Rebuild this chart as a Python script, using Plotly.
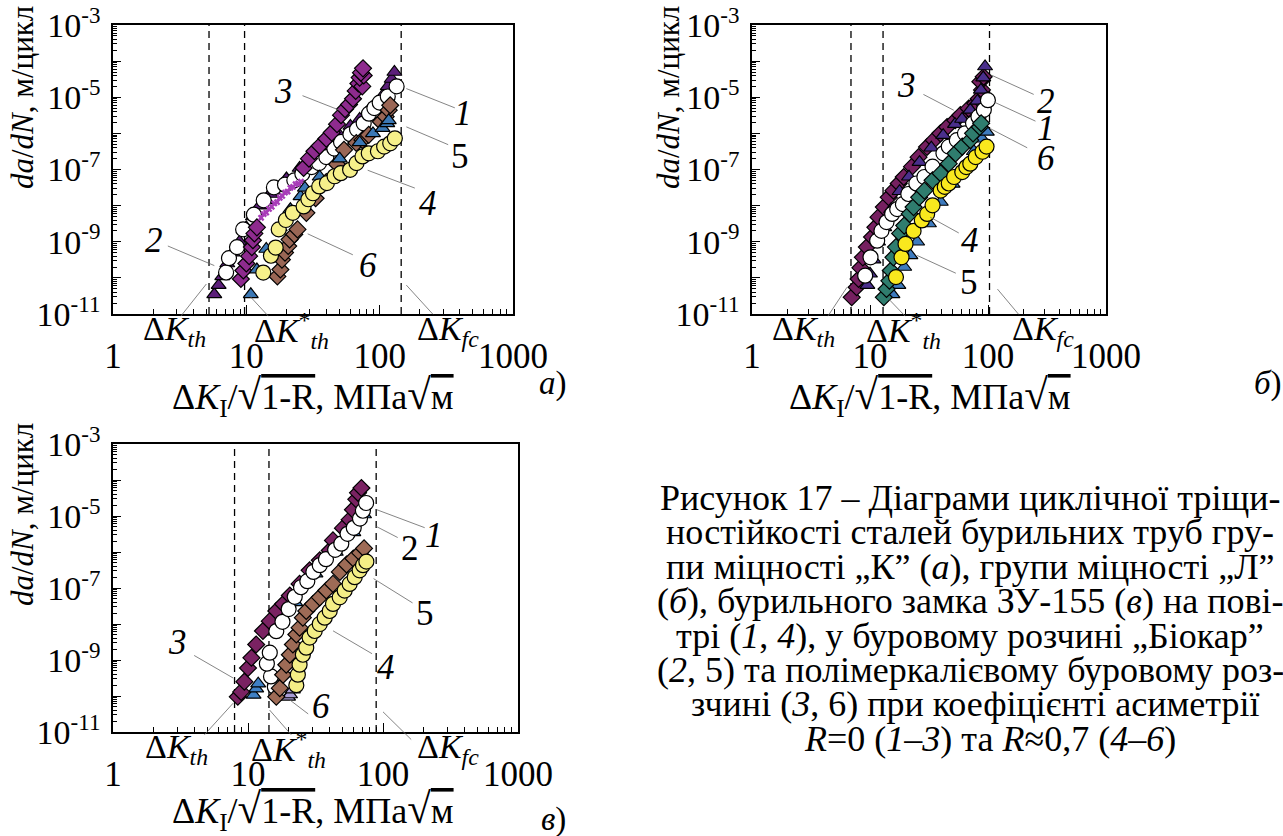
import plotly.graph_objects as go

W, H = 1283, 836
SERIF = "Liberation Serif, Tinos, 'Times New Roman', 'DejaVu Serif', serif"

# ======================= DATA =======================
# ---- panel a (група міцності "К") ----
a1_x = [7.05, 7.41, 8.51, 9.46, 11.4, 13.5, 16.1, 19.5, 22.9, 26.3, 30.9, 35.1, 39.8, 45.7, 51.3, 60.3, 67.6, 75.9, 83.2, 91.2, 100, 115, 134]
a1_y = [1.41e-10, 3.5e-10, 7.1e-10, 2.2e-9, 5.6e-9, 1.4e-8, 3.2e-8, 3.8e-8, 5.0e-8, 7.6e-8, 1.17e-7, 1.5e-7, 2.2e-7, 3.8e-7, 5.8e-7, 9.5e-7, 1.3e-6, 1.9e-6, 3.5e-6, 5.0e-6, 7.1e-6, 1.05e-5, 2.0e-5]
a2_x = [5.75, 6.2, 6.6, 7.2, 7.9, 8.9, 10.0, 11.2, 12.6, 14.1, 15.1, 15.8, 17.4, 20.0, 25.1, 31.6, 39.8, 50.1, 60.3, 70.8, 83.2, 95.5, 105, 115, 123, 129]
a2_y = [3.5e-11, 6.3e-11, 1.1e-10, 2.5e-10, 5.0e-10, 1.0e-9, 2.5e-9, 5.0e-9, 1.0e-8, 1.4e-8, 2.1e-8, 2.6e-8, 3.2e-8, 5.6e-8, 1.1e-7, 2.2e-7, 4.5e-7, 8.9e-7, 1.6e-6, 2.5e-6, 4.5e-6, 7.1e-6, 1.1e-5, 2.0e-5, 3.2e-5, 5.0e-5]
a3_x = [9.1, 9.5, 10.0, 10.5, 11.0, 11.2, 11.5, 12.0, 26.9, 29.5, 32.4, 35.5, 39.8, 43.7, 47.9, 51.3, 55.0, 58.9, 63.1, 66.1, 69.2, 74.1, 70.8, 75.9, 72.4, 75.0]
a3_y = [9.3e-11, 1.6e-10, 2.5e-10, 4.0e-10, 7.1e-10, 1.1e-9, 1.7e-9, 2.5e-9, 1.1e-7, 2.0e-7, 3.2e-7, 4.5e-7, 7.1e-7, 1.05e-6, 1.8e-6, 3.2e-6, 4.7e-6, 6.3e-6, 9.1e-6, 1.5e-5, 2.4e-5, 2.0e-5, 3.5e-5, 4.0e-5, 4.8e-5, 6.3e-5]
a3s_x = [12.9, 13.5, 14.1, 14.8, 15.5, 16.2, 17.0, 17.8, 18.6, 19.5, 20.4, 21.4, 22.4, 23.4, 24.5, 25.7]
a3s_y = [4.6e-9, 5.8e-9, 6.4e-9, 8.1e-9, 9.3e-9, 1.15e-8, 1.25e-8, 1.65e-8, 1.85e-8, 2.3e-8, 2.45e-8, 3.1e-8, 3.3e-8, 3.9e-8, 4.1e-8, 4.6e-8]
a4_x = [13.4, 15.3, 16.6, 17.5, 19.8, 22.3, 26.9, 29.2, 31.6, 35.2, 40.2, 45.9, 51.1, 60.0, 67.0, 74.3, 82.8, 97.0, 108, 120, 130]
a4_y = [1.4e-10, 4.1e-10, 6.9e-10, 2.2e-9, 4.0e-9, 6.3e-9, 9.5e-9, 1.5e-8, 2.2e-8, 3.4e-8, 4.2e-8, 6.5e-8, 7.9e-8, 9.8e-8, 1.5e-7, 2.3e-7, 2.8e-7, 3.2e-7, 4.3e-7, 5.3e-7, 7.3e-7]
a5_x = [10.8, 12.0, 14.1, 17.8, 21.4, 25.5, 27.5, 35.5, 50.1, 70.8, 89.1, 105, 114, 117]
a5_y = [3.5e-11, 1.7e-10, 6.3e-10, 2.5e-9, 7.9e-9, 1.8e-8, 3.1e-8, 6.3e-8, 2.0e-7, 5.6e-7, 1.0e-6, 1.4e-6, 1.9e-6, 2.3e-6]
a6_x = [17.1, 18.0, 18.5, 19.5, 20.6, 21.1, 22.9, 24.2, 28.2, 33.1, 39.8, 47.9, 54.0, 66.8, 74.3, 82.8, 102, 111, 117, 120]
a6_y = [1.1e-10, 1.7e-10, 3.2e-10, 5.0e-10, 7.6e-10, 1.15e-9, 1.6e-9, 2.2e-9, 6.3e-9, 1.6e-8, 4.5e-8, 1.4e-7, 3.5e-7, 5.4e-7, 6.6e-7, 9.1e-7, 2.1e-6, 2.9e-6, 4.4e-6, 6.0e-6]
a_thr = [5.25, 9.7, 145]   # ΔKth, ΔK*th, ΔKfc

# ---- panel b (група міцності "Л") ----
b1_x = [9.1, 10.1, 11.5, 12.5, 13.8, 15.4, 17.0, 19.0, 21.1, 24.7, 28.9, 33.9, 41.9, 46.5, 54.4, 63.8, 74.7, 83.0, 92.2, 99.8]
b1_y = [1.15e-10, 3.7e-10, 1.07e-9, 2.0e-9, 3.5e-9, 5.9e-9, 8.0e-9, 1.1e-8, 2.1e-8, 4.1e-8, 6.2e-8, 1.2e-7, 2.8e-7, 4.3e-7, 6.5e-7, 1.0e-6, 1.9e-6, 2.9e-6, 4.5e-6, 8.3e-6]
b2_x = [9.5, 10.0, 10.7, 11.7, 13.2, 15.1, 17.8, 21.4, 26.3, 33.1, 41.7, 52.5, 60.3, 70.8, 81.3, 87.1, 91.2, 94.4]
b2_y = [6.3e-11, 1.3e-10, 3.2e-10, 1.0e-9, 2.5e-9, 7.9e-9, 2.5e-8, 6.3e-8, 1.6e-7, 4.0e-7, 8.9e-7, 1.8e-6, 2.5e-6, 4.5e-6, 7.9e-6, 1.6e-5, 3.5e-5, 7.1e-5]
b3_x = [7.0, 7.7, 8.0, 8.3, 8.7, 9.4, 10.4, 11.1, 11.8, 13.1, 14.4, 15.8, 17.5, 19.3, 22.7, 25.8, 30.4, 34.7, 39.5, 45.0, 52.8, 58.3, 68.6, 78.1, 83.4, 89.0, 86.1, 91.9]
b3_y = [2.9e-11, 5.5e-11, 9.3e-11, 1.9e-10, 3.7e-10, 7.1e-10, 1.35e-9, 2.5e-9, 4.8e-9, 9.1e-9, 1.7e-8, 2.6e-8, 4.1e-8, 6.2e-8, 1.2e-7, 2.2e-7, 4.2e-7, 6.5e-7, 1.0e-6, 1.5e-6, 2.3e-6, 3.2e-6, 4.9e-6, 6.8e-6, 9.1e-6, 1.6e-5, 2.7e-5, 3.7e-5]
b4_x = [16.6, 18.5, 20.0, 23.4, 27.5, 30.5, 33.9, 39.7, 43.0, 46.5, 51.6, 60.5, 65.5, 70.8, 78.7, 89.8, 97.2]
b4_y = [1.05e-10, 3.7e-10, 8.7e-10, 2.0e-9, 3.9e-9, 5.9e-9, 1.02e-8, 2.6e-8, 3.3e-8, 4.1e-8, 6.2e-8, 8.5e-8, 1.17e-7, 1.45e-7, 2.2e-7, 3.1e-7, 4.3e-7]
b5_x = [15.5, 17.4, 19.5, 22.0, 25.1, 31.6, 39.8, 50.1, 63.1, 75.9, 89.1, 97.7]
b5_y = [3.5e-11, 6.3e-11, 2.0e-10, 4.2e-10, 1.0e-9, 3.2e-9, 1.26e-8, 4.0e-8, 1.26e-7, 3.2e-7, 7.1e-7, 1.1e-6]
b6_x = [13.1, 13.8, 14.6, 15.0, 15.8, 16.6, 18.0, 19.5, 21.7, 23.4, 26.1, 28.9, 33.9, 39.7, 46.5, 53.1, 60.5, 70.8, 74.7, 85.1, 87.5]
b6_y = [2.9e-11, 4.9e-11, 8.3e-11, 1.6e-10, 3.7e-10, 7.1e-10, 1.7e-9, 2.8e-9, 5.9e-9, 9.1e-9, 1.7e-8, 2.6e-8, 5.0e-8, 7.8e-8, 1.45e-7, 2.8e-7, 4.3e-7, 6.5e-7, 1.0e-6, 1.5e-6, 1.9e-6]
b_thr = [6.9, 12.9, 103]

# ---- panel c (бурильний замок ЗУ-155) ----
c1_x = [15.8, 14.8, 13.8, 14.5, 16.2, 18.0, 20.0, 22.2, 24.7, 27.5, 30.5, 34.0, 37.8, 44.2, 49.1, 54.6, 60.7, 67.5, 71.0, 75.0]
c1_y = [1.8e-10, 3.5e-10, 7.9e-10, 1.6e-9, 6.3e-9, 1.15e-8, 2.6e-8, 5.7e-8, 1.05e-7, 1.55e-7, 2.8e-7, 4.3e-7, 6.3e-7, 1.15e-6, 1.7e-6, 3.2e-6, 4.7e-6, 8.5e-6, 1.4e-5, 2.3e-5]
c2_x = [11.0, 11.5, 11.9, 22.4, 31.6, 44.7, 60.3, 72.4]
c2_y = [1.07e-10, 1.6e-10, 2.2e-10, 4.0e-8, 2.5e-7, 1.0e-6, 3.5e-6, 1.1e-5]
c3_x = [8.4, 8.9, 9.4, 10.0, 10.6, 11.5, 12.9, 14.5, 16.2, 18.2, 20.4, 24.1, 28.6, 34.0, 40.3, 42.6, 50.5, 56.6, 59.9, 63.4, 65.3, 69.2]
c3_y = [9.5e-11, 1.3e-10, 2.5e-10, 6.0e-10, 1.15e-9, 2.7e-9, 6.4e-9, 1.2e-8, 2.3e-8, 3.6e-8, 6.2e-8, 1.3e-7, 3.1e-7, 5.9e-7, 1.1e-6, 2.1e-6, 4.6e-6, 7.9e-6, 1.5e-5, 2.9e-5, 4.4e-5, 6.0e-5]
c4_x = [16.2, 17.2, 18.2, 19.2, 20.4, 21.5, 22.8, 24.1, 25.5, 27.0, 30.3, 34.0, 38.0, 42.6, 47.9, 53.7, 60.3, 67.6, 72.4]
c4_y = [9.5e-11, 1.65e-10, 3.9e-10, 7.4e-10, 1.4e-9, 2.7e-9, 5.1e-9, 7.9e-9, 1.5e-8, 2.3e-8, 3.6e-8, 5.5e-8, 8.5e-8, 1.3e-7, 2.8e-7, 4.5e-7, 6.6e-7, 9.5e-7, 1.26e-6]
c5_x = [22.8, 23.4, 24.1, 25.5, 27.0, 28.6, 31.2, 34.0, 37.0, 40.3, 42.6, 47.8, 52.0, 56.6, 61.7, 67.1, 71.1, 75.3]
c5_y = [2.0e-10, 3.9e-10, 7.4e-10, 1.4e-9, 2.2e-9, 4.2e-9, 6.4e-9, 1.0e-8, 1.5e-8, 2.3e-8, 3.6e-8, 5.5e-8, 8.5e-8, 1.3e-7, 2.0e-7, 3.1e-7, 4.3e-7, 5.4e-7]
c6_x = [19.8, 20.5, 21.5]
c6_y = [9.5e-11, 1.1e-10, 1.5e-10]
c_thr = [7.95, 14.3, 89]

x_ticks = [1, 10, 100, 1000]
x_ticktext = ["1", "10", "100", "1000"]

caption_lines = [
    "Рисунок 17 – Діаграми циклічної тріщи-",
    "ностійкості сталей бурильних труб гру-",
    "пи міцності „К” (<i>а</i>), групи міцності „Л”",
    "(<i>б</i>), бурильного замка ЗУ-155 (<i>в</i>) на пові-",
    "трі (<i>1</i>, <i>4</i>), у буровому розчині „Біокар”",
    "(<i>2</i>, 5) та полімеркалієвому буровому роз-",
    "зчині (<i>3</i>, 6) при коефіцієнті асиметрії",
    "<i>R</i>=0 (<i>1</i>–<i>3</i>) та <i>R</i>≈0,7 (<i>4</i>–<i>6</i>)",
]

# ======================= FIGURE =======================
fig = go.Figure()

# panel boxes in pixels: (left, top, right, bottom)
boxes = {"a": (113, 25, 513, 314), "b": (752, 25, 1106, 314), "c": (113, 444, 518, 732)}
axid = {"a": ("x", "y"), "b": ("x2", "y2"), "c": ("x3", "y3")}

minor_x = [m * 10 ** k for k in range(0, 3) for m in range(2, 10)]
minor_y = [m * 10.0 ** k for k in range(-11, -3) for m in range(2, 10)]
y_major = [10.0 ** k for k in range(-11, -2)]
y_text = [("10<sup><span style='font-size:23px'>%d</span></sup>" % k) if k % 2 else ""
          for k in range(-11, -2)]

XTICKFONT = dict(family=SERIF, size=35, color="black")
YTICKFONT = dict(family=SERIF, size=34, color="black")


def axis_pair(key):
    l, t, r, b = boxes[key]
    xa, ya = axid[key]
    xd = dict(type="log", range=[0, 3], domain=[l / W, r / W], anchor=ya, automargin=False,
              showline=True, linecolor="black", linewidth=1.6, mirror=True,
              ticks="inside", ticklen=9, tickwidth=1, tickcolor="black",
              tickmode="array", tickvals=x_ticks, ticktext=x_ticktext,
              tickfont=XTICKFONT, ticklabelstandoff=10, ticklabeloverflow="allow",
              minor=dict(ticks="inside", ticklen=5, tickwidth=1, tickcolor="black",
                         tickmode="array", tickvals=minor_x, showgrid=False),
              showgrid=False, zeroline=False)
    yd = dict(type="log", range=[-11, -3], domain=[1 - b / H, 1 - t / H], anchor=xa, automargin=False,
              showline=True, linecolor="black", linewidth=1.6, mirror=True,
              ticks="inside", ticklen=8, tickwidth=1, tickcolor="black",
              tickmode="array", tickvals=y_major, ticktext=y_text,
              tickfont=YTICKFONT, ticklabelstandoff=4, ticklabeloverflow="allow",
              minor=dict(ticks="inside", ticklen=4, tickwidth=1, tickcolor="black",
                         tickmode="array", tickvals=minor_y, showgrid=False),
              showgrid=False, zeroline=False)
    return xd, yd


layout_axes = {}
for key in ("a", "b", "c"):
    xd, yd = axis_pair(key)
    xa, ya = axid[key]
    layout_axes["xaxis" if xa == "x" else "xaxis" + xa[1:]] = xd
    layout_axes["yaxis" if ya == "y" else "yaxis" + ya[1:]] = yd


def mk(symbol, color, size, lw=1.2):
    return dict(symbol=symbol, color=color, size=size, line=dict(color="black", width=lw))


def add_series(key, xs, ys, marker):
    xa, ya = axid[key]
    fig.add_trace(go.Scatter(x=xs, y=ys, mode="markers", marker=marker,
                             xaxis=xa, yaxis=ya, hoverinfo="skip", showlegend=False))


def add_thresholds(key, thr):
    xa, ya = axid[key]
    for v in thr:
        fig.add_trace(go.Scatter(x=[v, v], y=[1e-11, 1e-3], mode="lines",
                                 line=dict(color="black", width=1.3, dash="7px,5px"),
                                 xaxis=xa, yaxis=ya, hoverinfo="skip", showlegend=False))


CIRC, DIAM, TRI = 15, 13, 13

# panel a
add_thresholds("a", a_thr)
add_series("a", a2_x, a2_y, mk("triangle-up", "#5C1F7A", TRI))
add_series("a", a1_x, a1_y, mk("circle", "white", CIRC))
add_series("a", a3_x, a3_y, mk("diamond", "#8E2B8E", DIAM))
add_series("a", a3s_x, a3s_y, dict(symbol="x", color="#A83CB8", size=6, line=dict(width=0)))
add_series("a", a6_x, a6_y, mk("diamond", "#9A6655", DIAM))
add_series("a", a5_x, a5_y, mk("triangle-up", "#3B78B5", TRI))
add_series("a", a4_x, a4_y, mk("circle", "#F6F08A", CIRC))

# panel b
add_thresholds("b", b_thr)
add_series("b", b3_x, b3_y, mk("diamond", "#762060", DIAM))
add_series("b", b2_x, b2_y, mk("triangle-up", "#4A2F8C", TRI))
add_series("b", b1_x, b1_y, mk("circle", "white", CIRC))
add_series("b", b5_x, b5_y, mk("triangle-up", "#3E7BBE", TRI))
add_series("b", b6_x, b6_y, mk("diamond", "#2F7D6E", DIAM))
add_series("b", b4_x, b4_y, mk("circle", "#F9E81E", CIRC))

# panel c
add_thresholds("c", c_thr)
add_series("c", c2_x, c2_y, mk("triangle-up", "#3F80C4", TRI))
add_series("c", c3_x, c3_y, mk("diamond", "#7A2262", DIAM))
add_series("c", c1_x, c1_y, mk("circle", "white", CIRC))
add_series("c", c6_x, c6_y, mk("triangle-up", "#A89CD6", TRI))
add_series("c", c4_x, c4_y, mk("diamond", "#9E6B56", DIAM))
add_series("c", c5_x, c5_y, mk("circle", "#F4EE86", CIRC))

ann = []


def leader(key, tail, head):
    xa, ya = axid[key]
    ann.append(dict(text="", x=head[0], y=head[1], ax=tail[0], ay=tail[1],
                    xref=xa, yref=ya, axref=xa, ayref=ya, showarrow=True,
                    arrowhead=0, arrowwidth=0.8, arrowcolor="#666666",
                    standoff=0, startstandoff=0))


def num_label(key, txt, pos, tail, head, italic=True):
    xa, ya = axid[key]
    t = "<i>%s</i>" % txt if italic else txt
    ann.append(dict(text=t, x=pos[0], y=pos[1], xref=xa, yref=ya, showarrow=False,
                    xanchor="center", yanchor="middle",
                    font=dict(family=SERIF, size=35, color="black")))
    leader(key, tail, head)


def dk_labels(key, ypix, specs):
    xa, ya = axid[key]
    texts = ["Δ<i>K</i><sub><i>th</i></sub>",
             "Δ<i>K</i><sup>*</sup><sub><i>th</i></sub>",
             "Δ<i>K</i><sub><i>fc</i></sub>"]
    for t, (tx, tail, head) in zip(texts, specs):
        ann.append(dict(text=t, x=tx, y=1 - ypix / H, xref=xa, yref="paper",
                        showarrow=False, xanchor="center", yanchor="middle",
                        font=dict(family=SERIF, size=34, color="black")))
        leader(key, tail, head)


# annotation positions (log10 units on log axes)
num_label("a", "3", (1.275, -4.85), (1.41, -4.94), (1.70, -5.36))
num_label("a", "1", (2.625, -5.45), (2.575, -5.31), (2.20, -4.76))
num_label("a", "5", (2.60, -6.65), (2.525, -6.33), (2.20, -5.82), italic=False)
num_label("a", "4", (2.36, -7.95), (2.275, -7.53), (1.91, -7.02))
num_label("a", "6", (1.91, -9.66), (1.81, -9.38), (1.46, -8.78))
num_label("a", "2", (0.31, -8.97), (0.40, -9.10), (0.76, -9.66))
dk_labels("a", 331, [(0.46, (0.50, -11.1), (0.70, -10.17)),
                     (1.34, (1.175, -11.1), (1.025, -10.5)),
                     (2.51, (2.41, -11.05), (2.20, -10.2))])

num_label("b", "3", (1.31, -4.67), (1.44, -4.90), (1.71, -5.36))
num_label("b", "2", (2.49, -5.13), (2.40, -4.94), (2.03, -4.39))
num_label("b", "1", (2.49, -5.87), (2.415, -5.68), (2.05, -5.13))
num_label("b", "6", (2.49, -6.70), (2.345, -6.42), (2.02, -5.87))
num_label("b", "4", (1.85, -8.97), (1.765, -8.78), (1.51, -8.32))
num_label("b", "5", (1.84, -10.12), (1.74, -9.89), (1.40, -9.38), italic=False)
dk_labels("b", 331, [(0.44, (0.635, -11.1), (0.805, -10.26)),
                     (1.285, (1.31, -11.1), (1.16, -10.59)),
                     (2.47, (2.27, -11.05), (2.08, -10.31))])

num_label("c", "1", (2.38, -5.53), (2.32, -5.34), (1.95, -4.82))
num_label("c", "2", (2.20, -5.90), (2.12, -5.62), (1.95, -5.29), italic=False)
num_label("c", "5", (2.31, -7.72), (2.23, -7.44), (1.93, -6.74), italic=False)
num_label("c", "4", (2.02, -9.22), (1.93, -8.85), (1.63, -8.19))
num_label("c", "3", (0.48, -8.52), (0.59, -8.85), (0.89, -9.50))
num_label("c", "6", (1.54, -10.30), (1.457, -10.53), (1.31, -10.11))
dk_labels("c", 749, [(0.47, (0.667, -11.12), (0.89, -10.2)),
                     (1.30, (1.33, -11.12), (1.16, -10.39)),
                     (2.48, (2.22, -11.25), (2.00, -10.44))])

# axis titles: enlarged radical sign with an overline over the radicand
RAD = "<span style='font-size:43px'>√</span>"
OVL = "<span style='text-decoration:overline'>%s</span>"
xt = "Δ<i>K</i><sub>I</sub>/" + RAD + (OVL % "1-R") + ", МПа" + RAD + (OVL % "м")
yt = "<i>da</i>/<i>dN</i>, м/цикл"
for (cx, cy) in [(313, 397), (930, 397), (313, 810)]:
    ann.append(dict(text=xt, x=cx / W, y=1 - cy / H, xref="paper", yref="paper",
                    xanchor="center", yanchor="middle", showarrow=False,
                    font=dict(family=SERIF, size=36, color="black")))
for (cx, cy) in [(22, 98), (668, 98), (22, 515)]:
    ann.append(dict(text=yt, x=cx / W, y=1 - cy / H, xref="paper", yref="paper",
                    xanchor="center", yanchor="middle", showarrow=False, textangle=-90,
                    font=dict(family=SERIF, size=31, color="black")))

# panel letters
for (t, cx, cy) in [("<i>а</i>)", 553, 384), ("<i>б</i>)", 1268, 384), ("<i>в</i>)", 553, 819)]:
    ann.append(dict(text=t, x=cx / W, y=1 - cy / H, xref="paper", yref="paper",
                    xanchor="center", yanchor="middle", showarrow=False,
                    font=dict(family=SERIF, size=33, color="black")))

# caption (centred lines, the source page is cropped at the right edge)
cap_cx = [970, 970, 970, 970, 970, 970, 975, 990]
for i, line in enumerate(caption_lines):
    ann.append(dict(text=line, x=cap_cx[i] / W, y=1 - (498 + i * 34.4) / H, xref="paper", yref="paper",
                    xanchor="center", yanchor="middle", showarrow=False,
                    font=dict(family=SERIF, size=36, color="black")))

fig.update_layout(width=W, height=H, margin=dict(l=0, r=0, t=0, b=0, autoexpand=False),
                  paper_bgcolor="white", plot_bgcolor="white", showlegend=False,
                  annotations=ann, **layout_axes)

fig.write_html("out.html", config={"displayModeBar": False},
               post_script="document.body.style.margin='0px';")
